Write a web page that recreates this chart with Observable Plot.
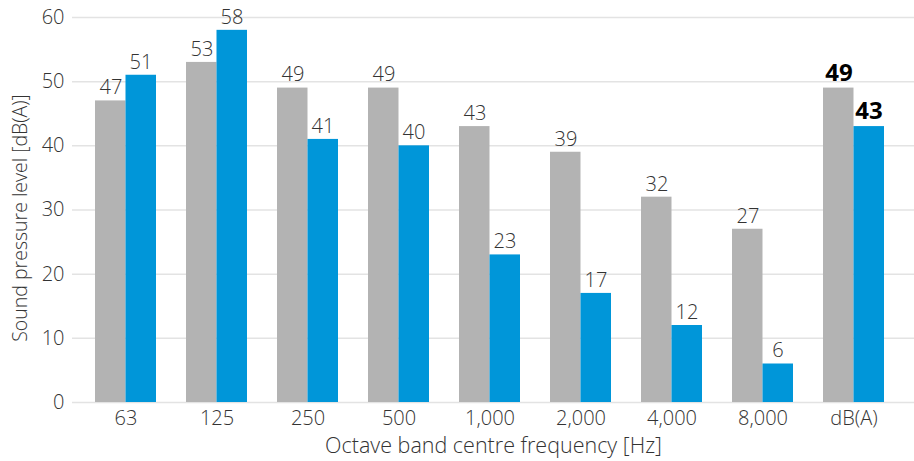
<!DOCTYPE html>
<html><head><meta charset="utf-8">
<script src="https://cdn.jsdelivr.net/npm/d3@7"></script>
<script src="https://cdn.jsdelivr.net/npm/@observablehq/plot@0.6"></script>
<style>
body{margin:0;background:#fff;}
svg{font-family:"Open Sans",sans-serif;}
</style></head><body><div id="chart"></div>
<script>
const categories = ["63","125","250","500","1,000","2,000","4,000","8,000","dB(A)"];
const grayValues = [47,53,49,49,43,39,32,27,49];
const blueValues = [51,58,41,40,23,17,12,6,43];
const yTicks = [0,10,20,30,40,50,60];

const data = categories.map((c,i)=>({cat:c, gray:grayValues[i], blue:blueValues[i], bold:c==="dB(A)"}));
const half = 30.5;
const chart = Plot.plot({
  width:914, height:461,
  marginLeft:72, marginRight:0, marginTop:17, marginBottom:59,
  style:{fontFamily:"Open Sans, sans-serif", color:"#333", background:"#fff"},
  x:{domain:categories, paddingInner:0.33, paddingOuter:0.28, align:0.43, label:null, tickSize:0, tickPadding:8},
  y:{domain:[0,60], ticks:yTicks, label:null, grid:false, tickSize:0, tickPadding:12},
  marks:[
    Plot.ruleY(yTicks,{stroke:"#e3e3e3", strokeWidth:1.5}),
    Plot.barY(data,{x:"cat", y:"gray", fill:"#b3b3b3", insetRight:half}),
    Plot.barY(data,{x:"cat", y:"blue", fill:"#0096d9", insetLeft:half}),
    Plot.text(data.filter(d=>!d.bold),{x:"cat", y:"gray", text:d=>String(d.gray), dx:-15, dy:-13, fontSize:20, fill:"#333", fontWeight:300}),
    Plot.text(data.filter(d=>!d.bold),{x:"cat", y:"blue", text:d=>String(d.blue), dx:15, dy:-13, fontSize:20, fill:"#333", fontWeight:300}),
    Plot.text(data.filter(d=>d.bold),{x:"cat", y:"gray", text:d=>String(d.gray), dx:-15, dy:-15, fontSize:24, fill:"#000", fontWeight:"bold"}),
    Plot.text(data.filter(d=>d.bold),{x:"cat", y:"blue", text:d=>String(d.blue), dx:15, dy:-15, fontSize:24, fill:"#000", fontWeight:"bold"}),
    Plot.axisX({tickSize:0, tickPadding:8, fontSize:20, label:null, fill:"#333", fontWeight:300}),
    Plot.axisY({ticks:yTicks, tickSize:0, tickPadding:8, fontSize:20, label:null, fill:"#333", fontWeight:300}),
    Plot.text(["Octave band centre frequency [Hz]"],{frameAnchor:"bottom", dy:50, fontSize:21.5, fill:"#333", fontWeight:300}),
  ]
});
document.getElementById("chart").append(chart);
const svg = d3.select(chart);
svg.append("text").attr("transform","translate(22,218) rotate(-90)").attr("text-anchor","middle").attr("dominant-baseline","middle")
  .attr("font-size",19.5).attr("font-weight",300).attr("fill","#333").attr("font-family","Open Sans, sans-serif").text("Sound pressure level [dB(A)]");
</script></body></html>
